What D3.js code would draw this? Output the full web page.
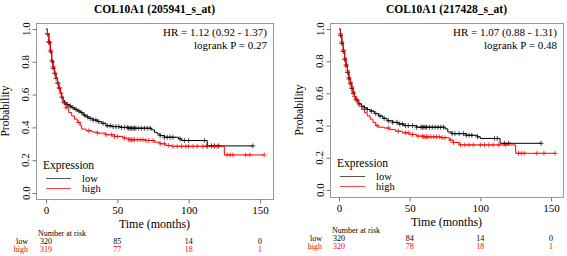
<!doctype html>
<html>
  <head>
    <script src="https://cdn.jsdelivr.net/npm/d3@7"></script>
    <style>
      body { margin: 0; background: #fff; }
      svg text { font-family: "Liberation Serif", "Times New Roman", serif; }
      .box { fill: none; stroke: #999; }
      .tick line, .domain { stroke: #777; }
    </style>
  </head>
  <body>
    <svg style="width:567px;height:256px;display:block"></svg>
    <script>
      // data
      var titles = ["COL10A1 (205941_s_at)", "COL10A1 (217428_s_at)"];
      var hrText = ["HR = 1.12 (0.92 - 1.37)", "HR = 1.07 (0.88 - 1.31)"];
      var pText = ["logrank P = 0.27", "logrank P = 0.48"];
      var groups = ["low", "high"];
      var riskTimes = [0, 50, 100, 150];
      var riskLeft = [[320, 85, 14, 0], [319, 77, 18, 1]];
      var riskRight = [[320, 84, 14, 0], [320, 78, 18, 1]];
      var xTicks = [0, 50, 100, 150];
      var yTicks = [0, 0.2, 0.4, 0.6, 0.8, 1.0];

      // [time, survival] steps
      var leftLow = [[0,1],[1,0.97],[2,0.92],[3,0.86],[4,0.8],[5,0.76],[6,0.73],[7,0.7],[8,0.67],[9,0.64],[10,0.61],[11,0.585],[12,0.565],[13,0.55],[14,0.54],[16,0.53],[18,0.52],[20,0.51],[22,0.5],[24,0.49],[26,0.475],[28,0.465],[30,0.455],[33,0.445],[36,0.435],[39,0.425],[42,0.41],[46,0.405],[52,0.4],[58,0.395],[74,0.385],[76,0.37],[78,0.36],[80,0.35],[83,0.34],[93,0.33],[95,0.32],[113,0.287],[145,0.287]];
      var leftHigh = [[0,1],[1,0.97],[2,0.92],[3,0.87],[4,0.81],[5,0.77],[6,0.73],[7,0.7],[8,0.67],[9,0.64],[10,0.61],[11,0.58],[12,0.555],[14,0.52],[16,0.49],[18,0.47],[20,0.45],[22,0.43],[24,0.41],[25,0.39],[28,0.38],[32,0.372],[36,0.365],[42,0.355],[48,0.345],[54,0.335],[58,0.325],[70,0.32],[76,0.31],[80,0.3],[84,0.29],[88,0.285],[125,0.232],[153,0.232]];
      var rightLow = [[0,1],[1,0.96],[2,0.91],[3,0.86],[4,0.81],[5,0.77],[6,0.73],[7,0.69],[8,0.66],[9,0.63],[10,0.6],[11,0.58],[12,0.56],[13,0.545],[14,0.535],[16,0.52],[18,0.51],[20,0.5],[22,0.49],[25,0.475],[28,0.46],[31,0.445],[34,0.43],[38,0.42],[42,0.41],[46,0.4],[55,0.39],[75,0.38],[77,0.36],[80,0.35],[90,0.34],[98,0.33],[100,0.32],[114,0.29],[143,0.29]];
      var rightHigh = [[0,1],[1,0.97],[2,0.92],[3,0.87],[4,0.82],[5,0.78],[6,0.74],[7,0.7],[8,0.67],[9,0.64],[10,0.61],[11,0.58],[12,0.56],[14,0.53],[16,0.5],[18,0.48],[20,0.46],[22,0.44],[24,0.42],[26,0.4],[28,0.39],[32,0.385],[36,0.375],[40,0.365],[45,0.355],[50,0.345],[55,0.335],[60,0.33],[72,0.325],[78,0.31],[81,0.295],[85,0.28],[125,0.228],[153,0.228]];

      // censoring times (months)
      var censLeftLow = [1,2,2.5,3.5,4.5,5,6,7,8.5,9.5,11,13,15,17,19,21,23,25,27,29,31,33,35,37,40,43,45,47,49,51,53,55,57,58,59,60,61,62,63,65,67,69,71,73,80,83,85,87,89,94,97,100,111,113,116,118,121,145];
      var censLeftHigh = [1,2,3,4,5,6.5,8,9,10.5,12,14,23,30,36,42,46,48,50,55,58,59,60,61,62,64,66,68,70,72,75,80,83,86,89,92,95,98,100,103,106,110,113,118,120,127,129,131,140,143,153];
      var censRightLow = [1,2,3,4,5,6,7,8,9,10,12,14,16,18,20,23,26,29,32,35,38,41,43,45,47,49,52,55,58,59,60,61,62,64,66,68,70,72,74,80,82,85,88,90,92,94,98,110,112,117,120,143];
      var censRightHigh = [1,2,3,4,5,6,7,8,9,10,11,13,27,35,42,47,49,52,56,59,60,61,62,63,65,67,69,71,73,75,79,81,86,89,92,95,100,103,106,109,113,118,127,129,131,140,145,153];

      var colors = ["#000", "#f00"];
      var svg = d3.select("svg");

      function surv(steps, t) {
        var s = 1;
        steps.forEach(p => { if (p[0] <= t) s = p[1]; });
        return s;
      }

      function panel(o) {
        var x = d3.scaleLinear().domain([0, 150]).range([o.tx0, o.tx1]);
        var y = d3.scaleLinear().domain([0, 1]).range([o.sy0, o.sy1]);
        var g = svg.append("g");

        g.append("text")
            .attr("x", (o.bx0 + o.bx1) / 2).attr("y", 13)
            .attr("text-anchor", "middle")
            .style("font-weight", "bold").style("font-size", "11.5px")
            .text(o.title);

        g.append("rect").attr("class", "box")
            .attr("x", o.bx0 + .5).attr("y", o.by0 + .5)
            .attr("width", o.bx1 - o.bx0).attr("height", o.by1 - o.by0);

        // y axis, labels turned like R's
        var ya = g.append("g").attr("transform", `translate(${o.bx0 + .5},0)`)
          .call(d3.axisLeft(y).tickValues(yTicks).tickFormat(d3.format(".1f")).tickSize(4));
        ya.select(".domain").remove();
        ya.selectAll(".tick").attr("transform", null);
        ya.selectAll(".tick line").attr("y1", d => y(d) + .5).attr("y2", d => y(d) + .5);
        ya.selectAll("text")
            .attr("x", -7).attr("y", d => y(d)).attr("dy", "0")
            .attr("transform", d => `rotate(-90,-7,${y(d)})`)
            .attr("text-anchor", "middle")
            .style("font-size", "11px").style("fill", "#000");

        g.append("text")
            .attr("transform", `translate(${o.bx0 - 27},${(o.by0 + o.by1) / 2}) rotate(-90)`)
            .attr("text-anchor", "middle").style("font-size", "11.5px")
            .text("Probability");

        // x axis
        var xa = g.append("g").attr("transform", `translate(0,${o.by1 + .5})`)
          .call(d3.axisBottom(x).tickValues(xTicks).tickSize(4).tickPadding(3));
        xa.select(".domain").remove();
        xa.selectAll("text").style("font-size", "11px").style("fill", "#000");

        g.append("text")
            .attr("x", (o.bx0 + o.bx1) / 2).attr("y", o.by1 + 29)
            .attr("text-anchor", "middle").style("font-size", "12px")
            .text("Time (months)");

        // curves with censor marks
        var line = d3.line().curve(d3.curveStepAfter).x(d => x(d[0])).y(d => y(d[1]));
        [o.low, o.high].forEach((steps, i) => {
          g.append("path").attr("d", line(steps))
              .attr("fill", "none").attr("stroke", colors[i]).attr("stroke-width", 1);
          g.selectAll(null).data(o.cens[i]).enter()
            .append("path")
              .attr("d", t => {
                var cx = x(t), cy = y(surv(steps, t));
                return `M${cx - 2.5},${cy}H${cx + 2.5}M${cx},${cy - 2.5}V${cy + 2.5}`;
              })
              .attr("stroke", colors[i]).attr("stroke-opacity", 0.7).attr("stroke-width", 1);
        });

        // HR text
        g.append("text").attr("x", o.bx1 - 6).attr("y", o.by0 + 13)
            .attr("text-anchor", "end").style("font-size", "11px").text(o.hr);
        g.append("text").attr("x", o.bx1 - 6).attr("y", o.by0 + 26)
            .attr("text-anchor", "end").style("font-size", "11px").text(o.p);

        // legend
        var lg = g.append("g").attr("transform", `translate(${o.bx0 + 7},${o.ly})`);
        lg.append("text").attr("x", 0).attr("y", 0).style("font-size", "11.5px").text("Expression");
        groups.forEach((name, i) => {
          lg.append("line").attr("x1", 3).attr("x2", 28)
              .attr("y1", 9.5 + i * 10).attr("y2", 9.5 + i * 10)
              .attr("stroke", i ? "#f44" : "#555");
          lg.append("text").attr("x", 39).attr("y", 13 + i * 10)
              .style("font-size", "10.5px").text(name);
        });

        // number at risk
        var rt = g.append("g").style("font-size", "8px");
        rt.append("text").attr("x", o.bx0 + 2).attr("y", o.ry).text("Number at risk");
        groups.forEach((name, i) => {
          rt.append("text").attr("x", o.bx0 - 8).attr("y", o.ry + 8 + i * 8)
              .attr("text-anchor", "end").style("fill", colors[i]).text(name);
          rt.selectAll(null).data(o.risk[i]).enter().append("text")
              .attr("x", (d, j) => x(riskTimes[j]))
              .attr("y", o.ry + 8 + i * 8)
              .attr("text-anchor", "middle").style("fill", colors[i])
              .text(d => d);
        });
      }

      panel({title: titles[0], hr: hrText[0], p: pText[0],
        bx0: 36, bx1: 273, by0: 23, by1: 199,
        tx0: 46, tx1: 260, sy0: 193, sy1: 29, ly: 169, ry: 236,
        low: leftLow, high: leftHigh, cens: [censLeftLow, censLeftHigh], risk: riskLeft});
      panel({title: titles[1], hr: hrText[1], p: pText[1],
        bx0: 330, bx1: 563, by0: 23, by1: 197,
        tx0: 339, tx1: 551, sy0: 190, sy1: 29, ly: 167, ry: 233,
        low: rightLow, high: rightHigh, cens: [censRightLow, censRightHigh], risk: riskRight});
    </script>
  </body>
</html>
